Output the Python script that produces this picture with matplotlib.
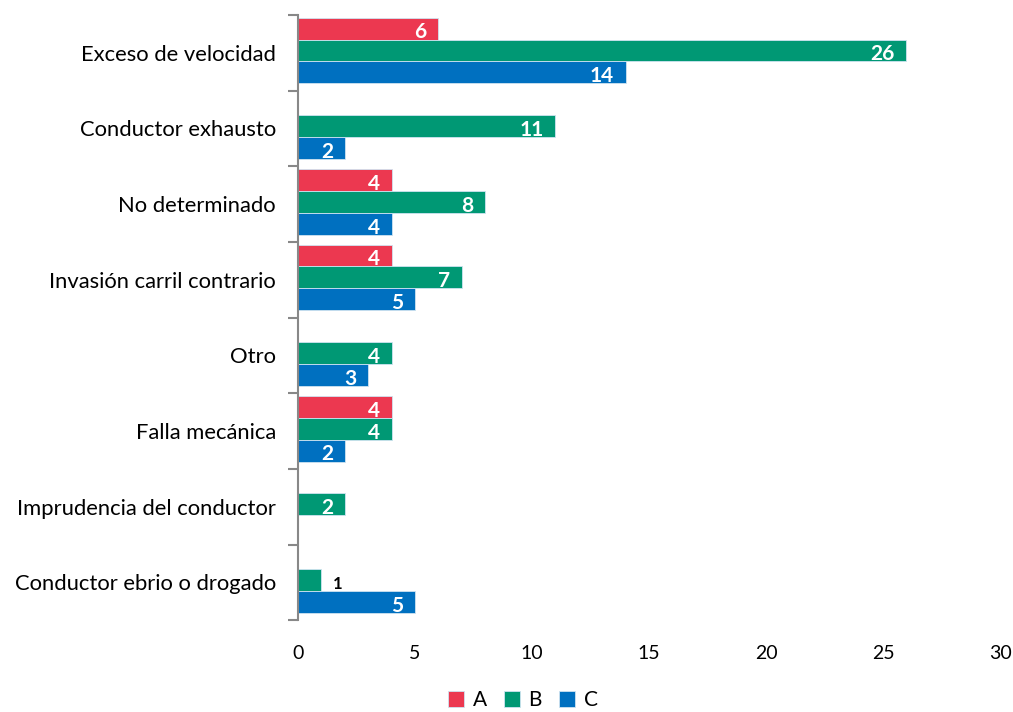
import numpy as np
import matplotlib.pyplot as plt

plt.rcParams['font.family'] = ['Lato', 'DejaVu Sans']

# Data
categories = ['Exceso de velocidad', 'Conductor exhausto', 'No determinado',
              'Invasión carril contrario', 'Otro', 'Falla mecánica',
              'Imprudencia del conductor', 'Conductor ebrio o drogado']
serie_a = [6, 0, 4, 4, 0, 4, 0, 0]
serie_b = [26, 11, 8, 7, 4, 4, 2, 1]
serie_c = [14, 2, 4, 5, 3, 2, 0, 5]
series = {'A': serie_a, 'B': serie_b, 'C': serie_c}
colors = {'A': '#EC3850', 'B': '#009874', 'C': '#0070C0'}

fig = plt.figure(figsize=(10.13, 7.12), dpi=100)
ax = fig.add_axes([0.2942, 0.129, 0.693, 0.850])

y = np.arange(len(categories))
h = 0.29
offsets = {'A': -h - 0.03, 'B': -0.03, 'C': h - 0.03}

for name, vals in series.items():
    vals = np.array(vals, dtype=float)
    pos = y + offsets[name]
    mask = vals > 0
    ax.barh(pos[mask], vals[mask], height=h, color=colors[name],
            edgecolor='#cfe3f0', linewidth=0.6, label=name)
    for p, v in zip(pos[mask], vals[mask]):
        if v >= 2:
            ax.text(v - 0.5, p + 0.05, '%d' % v, ha='right', va='center',
                    color='white', fontsize=15, fontweight='bold')
        else:
            ax.text(v + 0.5, p + 0.05, '%d' % v, ha='left', va='center',
                    color='black', fontsize=12, fontweight='bold')

ax.set_xlim(0, 30)
ax.set_ylim(len(categories) - 0.5, -0.5)
ax.set_xticks(np.arange(0, 31, 5))
ax.set_yticks(y)
ax.set_yticklabels(categories, fontsize=15.8)
ax.set_yticks(np.arange(-0.5, len(categories), 1), minor=True)
ax.tick_params(axis='y', which='major', length=0, pad=16)
ax.tick_params(axis='y', which='minor', length=7, width=1.5, color='#888888')
ax.tick_params(axis='x', length=0, labelsize=14, pad=18)

for s in ['top', 'right', 'bottom']:
    ax.spines[s].set_visible(False)
ax.spines['left'].set_color('#888888')
ax.spines['left'].set_linewidth(1.5)

ax.legend(loc='upper center', bbox_to_anchor=(0.32, -0.085), ncol=3,
          frameon=False, fontsize=15, handlelength=0.8, handleheight=0.8,
          handletextpad=0.4, columnspacing=0.8)

plt.savefig('out.png', dpi=100)
